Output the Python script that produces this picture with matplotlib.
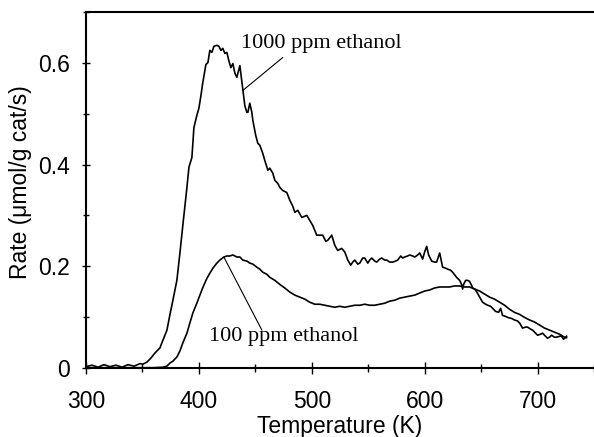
import numpy as np
import matplotlib
matplotlib.use("Agg")
import matplotlib.pyplot as plt
from matplotlib.ticker import MultipleLocator

# 1000 ppm ethanol
T_1000 = [300.0, 305.3, 310.6, 315.9, 321.2, 326.5, 331.9, 337.2, 342.5, 347.8,
          350.4, 354.0, 357.5, 361.1, 365.5, 368.1, 371.7, 374.3, 377.0, 380.5,
          383.2, 385.8, 389.4, 391.2, 393.8, 395.6, 398.2, 400.0, 401.8, 403.5,
          406.2, 408.0, 409.7, 411.5, 413.3, 415.9, 417.7, 419.5, 421.2, 423.0,
          424.8, 426.5, 428.3, 430.1, 431.9, 433.6, 435.4, 436.3, 438.1, 438.9,
          440.7, 442.5, 443.4, 445.1, 446.9, 447.8, 450.4, 452.2, 454.0, 456.6,
          458.4, 461.1, 462.8, 465.5, 467.3, 469.9, 471.7, 474.3, 477.9, 480.5,
          483.2, 485.0, 487.6, 491.2, 495.6, 498.2, 500.9, 504.4, 507.1, 509.7,
          512.4, 514.2, 517.7, 520.4, 523.0, 526.5, 529.2, 531.9, 534.5, 536.3,
          538.1, 540.7, 542.5, 545.1, 546.9, 549.6, 551.3, 553.1, 555.8, 557.5,
          560.2, 561.9, 564.6, 566.4, 569.0, 571.7, 574.3, 576.1, 578.8, 580.5,
          582.3, 584.9, 586.7, 589.4, 591.2, 593.8, 595.6, 598.2, 600.0, 601.8,
          603.5, 606.2, 608.8, 610.6, 613.3, 615.9, 618.6, 620.4, 623.0, 624.8,
          628.3, 631.0, 632.7, 633.6, 634.5, 636.3, 638.1, 639.8, 641.6, 642.5,
          644.2, 646.0, 648.7, 651.3, 654.0, 655.8, 658.4, 660.2, 662.8, 665.5,
          667.3, 669.0, 671.7, 673.5, 677.0, 679.6, 682.3, 684.1, 686.7, 689.4,
          691.2, 693.8, 695.6, 698.2, 700.0, 702.7, 704.4, 707.1, 708.8, 710.6,
          712.4, 715.0, 716.8, 719.5, 721.2, 723.0, 723.9, 725.7]
R_1000 = [0.002, 0.005, 0.001, 0.006, 0.002, 0.005, 0.001, 0.006, 0.003, 0.008,
          0.007, 0.011, 0.019, 0.029, 0.039, 0.054, 0.074, 0.104, 0.133, 0.172,
          0.226, 0.281, 0.355, 0.395, 0.414, 0.473, 0.497, 0.511, 0.536, 0.562,
          0.597, 0.601, 0.625, 0.621, 0.633, 0.635, 0.633, 0.625, 0.629, 0.619,
          0.621, 0.605, 0.591, 0.599, 0.580, 0.572, 0.587, 0.595, 0.562, 0.546,
          0.516, 0.503, 0.503, 0.521, 0.503, 0.487, 0.457, 0.442, 0.438, 0.422,
          0.408, 0.389, 0.393, 0.383, 0.369, 0.363, 0.355, 0.349, 0.345, 0.330,
          0.318, 0.306, 0.310, 0.296, 0.300, 0.290, 0.280, 0.261, 0.261, 0.261,
          0.249, 0.251, 0.261, 0.241, 0.231, 0.235, 0.228, 0.212, 0.202, 0.208,
          0.212, 0.204, 0.206, 0.216, 0.216, 0.206, 0.212, 0.216, 0.210, 0.208,
          0.214, 0.216, 0.212, 0.212, 0.208, 0.208, 0.210, 0.212, 0.220, 0.216,
          0.218, 0.220, 0.222, 0.220, 0.218, 0.222, 0.226, 0.214, 0.228, 0.239,
          0.222, 0.210, 0.208, 0.208, 0.226, 0.198, 0.196, 0.194, 0.192, 0.188,
          0.178, 0.172, 0.164, 0.155, 0.164, 0.172, 0.172, 0.170, 0.162, 0.157,
          0.155, 0.150, 0.139, 0.129, 0.125, 0.123, 0.121, 0.117, 0.111, 0.109,
          0.117, 0.103, 0.101, 0.099, 0.097, 0.094, 0.092, 0.088, 0.078, 0.080,
          0.080, 0.076, 0.074, 0.068, 0.064, 0.066, 0.068, 0.062, 0.058, 0.060,
          0.064, 0.060, 0.060, 0.062, 0.062, 0.056, 0.058, 0.062]

# 100 ppm ethanol
T_100 = [300.0, 330.0, 360.0, 368.1, 371.7, 374.3, 377.0, 380.5, 383.2, 385.8,
         389.4, 392.0, 394.7, 398.2, 400.9, 403.5, 407.1, 409.7, 412.4, 415.9,
         418.6, 422.1, 424.8, 427.4, 430.1, 433.6, 436.3, 438.9, 442.5, 445.1,
         447.8, 451.3, 454.0, 456.6, 460.2, 462.8, 467.3, 471.7, 476.1, 480.5,
         485.0, 489.4, 493.8, 498.2, 502.7, 507.1, 511.5, 515.9, 520.4, 524.8,
         529.2, 533.6, 538.1, 542.5, 546.9, 551.3, 555.8, 560.2, 564.6, 569.0,
         573.5, 577.9, 582.3, 586.7, 591.2, 595.6, 600.0, 604.4, 608.8, 613.3,
         617.7, 622.1, 626.5, 631.0, 635.4, 639.8, 644.2, 648.7, 653.1, 657.5,
         661.9, 666.4, 670.8, 675.2, 679.6, 684.1, 688.5, 692.9, 697.3, 701.8,
         706.2, 710.6, 715.0, 719.5, 723.9, 725.7]
R_100 = [0.0, 0.0, 0.0, 0.001, 0.003, 0.009, 0.013, 0.021, 0.033, 0.049,
         0.068, 0.088, 0.108, 0.127, 0.143, 0.158, 0.176, 0.186, 0.196, 0.206,
         0.212, 0.218, 0.220, 0.220, 0.222, 0.218, 0.218, 0.212, 0.210, 0.206,
         0.204, 0.198, 0.194, 0.188, 0.184, 0.178, 0.172, 0.164, 0.157, 0.149,
         0.143, 0.139, 0.135, 0.129, 0.125, 0.125, 0.123, 0.121, 0.119, 0.121,
         0.119, 0.121, 0.123, 0.123, 0.125, 0.123, 0.123, 0.125, 0.127, 0.131,
         0.133, 0.137, 0.139, 0.141, 0.143, 0.147, 0.151, 0.153, 0.157, 0.159,
         0.159, 0.159, 0.161, 0.161, 0.159, 0.159, 0.155, 0.151, 0.145, 0.139,
         0.135, 0.129, 0.123, 0.115, 0.109, 0.105, 0.099, 0.094, 0.090, 0.084,
         0.078, 0.074, 0.070, 0.066, 0.060, 0.059]

labels = ["1000 ppm ethanol", "100 ppm ethanol"]

fig = plt.figure(figsize=(5.94, 4.37), dpi=100)
ax = fig.add_axes([86/594, 1-367.7/437, 1-86/594, (367.7-12.3)/437])

ax.plot(T_1000, R_1000, color="black", lw=1.2)
ax.plot(T_100, R_100, color="black", lw=1.2)

ax.set_xlim(300, 750)
ax.set_ylim(0, 0.7)
ax.xaxis.set_major_locator(MultipleLocator(100))
ax.xaxis.set_minor_locator(MultipleLocator(50))
ax.yaxis.set_major_locator(MultipleLocator(0.2))
ax.yaxis.set_minor_locator(MultipleLocator(0.1))
ax.yaxis.set_major_formatter(plt.FuncFormatter(lambda v, p: "0" if abs(v) < 1e-9 else f"{v:.1f}"))

sans = "Liberation Sans"
serif = "Liberation Serif"
ax.tick_params(which="both", direction="inout", width=1.0, labelsize=16.5)
ax.tick_params(axis="x", which="major", length=8, pad=12)
ax.tick_params(axis="x", which="minor", length=6)
ax.tick_params(axis="y", which="major", length=6, pad=8.5)
ax.tick_params(axis="y", which="minor", length=5)
for lab in ax.get_xticklabels() + ax.get_yticklabels():
    lab.set_fontfamily(sans)

ax.spines["right"].set_visible(False)
for s in ["left", "bottom", "top"]:
    ax.spines[s].set_linewidth(1.5)

ax.set_xlabel("Temperature (K)", fontsize=16.5, fontfamily=sans)
ax.set_ylabel("Rate (\u03bcmol/g cat/s)", fontsize=16.5, fontfamily=sans)
ax.xaxis.set_label_coords(0.5, -0.133)
ax.yaxis.set_label_coords(-0.107, 0.521)

ax.text(436.9, 0.639, labels[0], fontsize=16, fontfamily=serif, va="center", ha="left")
ax.annotate("", xy=(438.9, 0.546), xytext=(474.3, 0.611),
            arrowprops=dict(arrowstyle="-", lw=0.8, color="black", shrinkA=0, shrinkB=0))
ax.text(408.8, 0.062, labels[1], fontsize=16, fontfamily=serif, va="center", ha="left")
ax.annotate("", xy=(422.1, 0.218), xytext=(455.8, 0.074),
            arrowprops=dict(arrowstyle="-", lw=0.8, color="black", shrinkA=0, shrinkB=0))

fig.savefig("out.png", dpi=100)
